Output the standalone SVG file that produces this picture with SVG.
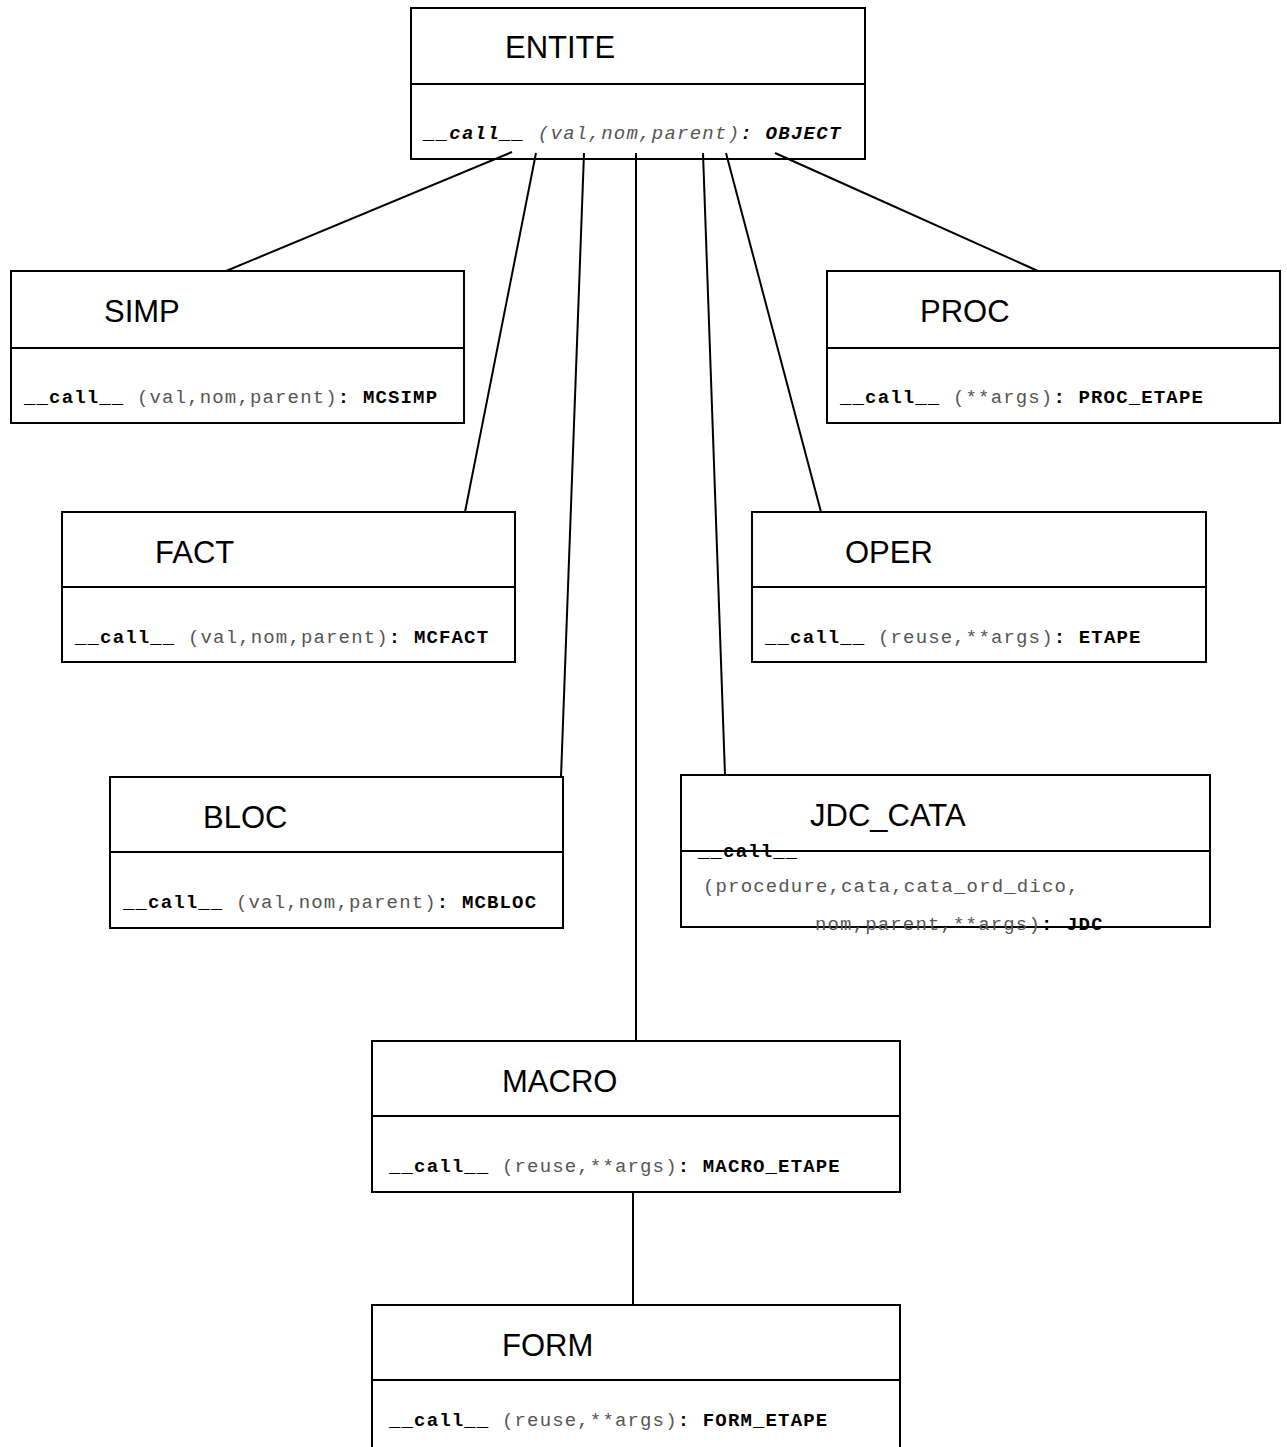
<svg xmlns="http://www.w3.org/2000/svg" width="1287" height="1447" viewBox="0 0 1287 1447">
<style>
.box{fill:#fff;stroke:#000;stroke-width:2}
.div{stroke:#000;stroke-width:2}
.title{font-family:"Liberation Sans",Arial,sans-serif;font-size:31px;fill:#000}
.body{font-family:"Liberation Mono","Courier New",monospace;font-size:19px;letter-spacing:1.15px;fill:#000}
.b{font-weight:bold;fill:#000}
.a{fill:#555}
.conn line{stroke:#000;stroke-width:2}
</style>
<rect width="1287" height="1447" fill="#fff"/>
<g id="ENTITE">
<rect class="box" x="411" y="8" width="454" height="151"/>
<line class="div" x1="411" y1="84" x2="865" y2="84"/>
<text class="title" x="505" y="58">ENTITE</text>
<text class="body" x="424" y="139" font-style="italic" style="letter-spacing:1.25px"><tspan class="b">__call__</tspan><tspan class="a"> (val,nom,parent)</tspan><tspan class="b">: OBJECT</tspan></text>
</g>
<g id="SIMP">
<rect class="box" x="11" y="271" width="453" height="152"/>
<line class="div" x1="11" y1="348" x2="464" y2="348"/>
<text class="title" x="104" y="322">SIMP</text>
<text class="body" x="24" y="403"><tspan class="b">__call__</tspan><tspan class="a"> (val,nom,parent)</tspan><tspan class="b">: MCSIMP</tspan></text>
</g>
<g id="PROC">
<rect class="box" x="827" y="271" width="453" height="152"/>
<line class="div" x1="827" y1="348" x2="1280" y2="348"/>
<text class="title" x="920" y="322">PROC</text>
<text class="body" x="840" y="403"><tspan class="b">__call__</tspan><tspan class="a"> (**args)</tspan><tspan class="b">: PROC_ETAPE</tspan></text>
</g>
<g id="FACT">
<rect class="box" x="62" y="512" width="453" height="150"/>
<line class="div" x1="62" y1="587" x2="515" y2="587"/>
<text class="title" x="155" y="563">FACT</text>
<text class="body" x="75" y="643"><tspan class="b">__call__</tspan><tspan class="a"> (val,nom,parent)</tspan><tspan class="b">: MCFACT</tspan></text>
</g>
<g id="OPER">
<rect class="box" x="752" y="512" width="454" height="150"/>
<line class="div" x1="752" y1="587" x2="1206" y2="587"/>
<text class="title" x="845" y="563">OPER</text>
<text class="body" x="765" y="643"><tspan class="b">__call__</tspan><tspan class="a"> (reuse,**args)</tspan><tspan class="b">: ETAPE</tspan></text>
</g>
<g id="BLOC">
<rect class="box" x="110" y="777" width="453" height="151"/>
<line class="div" x1="110" y1="852" x2="563" y2="852"/>
<text class="title" x="203" y="828">BLOC</text>
<text class="body" x="123" y="908"><tspan class="b">__call__</tspan><tspan class="a"> (val,nom,parent)</tspan><tspan class="b">: MCBLOC</tspan></text>
</g>
<g id="JDC_CATA">
<rect class="box" x="681" y="775" width="529" height="152"/>
<line class="div" x1="681" y1="851" x2="1210" y2="851"/>
<text class="title" x="810" y="826">JDC_CATA</text>
<text class="body" x="698" y="857"><tspan class="b">__call__</tspan></text>
<text class="body" x="703" y="892"><tspan class="a">(procedure,cata,cata_ord_dico,</tspan></text>
<text class="body" x="815" y="930"><tspan class="a">nom,parent,**args)</tspan><tspan class="b">: JDC</tspan></text>
</g>
<g id="MACRO">
<rect class="box" x="372" y="1041" width="528" height="151"/>
<line class="div" x1="372" y1="1116" x2="900" y2="1116"/>
<text class="title" x="502" y="1092">MACRO</text>
<text class="body" x="389" y="1172"><tspan class="b">__call__</tspan><tspan class="a"> (reuse,**args)</tspan><tspan class="b">: MACRO_ETAPE</tspan></text>
</g>
<g id="FORM">
<rect class="box" x="372" y="1305" width="528" height="150"/>
<line class="div" x1="372" y1="1380" x2="900" y2="1380"/>
<text class="title" x="502" y="1356">FORM</text>
<text class="body" x="389" y="1426"><tspan class="b">__call__</tspan><tspan class="a"> (reuse,**args)</tspan><tspan class="b">: FORM_ETAPE</tspan></text>
</g>
<g id="connectors" class="conn">
<line x1="512" y1="152" x2="226" y2="271"/>
<line x1="536" y1="153" x2="465" y2="512"/>
<line x1="584" y1="153" x2="561" y2="777"/>
<line x1="636" y1="153" x2="636" y2="1041"/>
<line x1="703" y1="153" x2="725" y2="775"/>
<line x1="726" y1="153" x2="821" y2="512"/>
<line x1="775" y1="153" x2="1038" y2="271"/>
<line x1="633" y1="1192" x2="633" y2="1305"/>
</g>
</svg>
